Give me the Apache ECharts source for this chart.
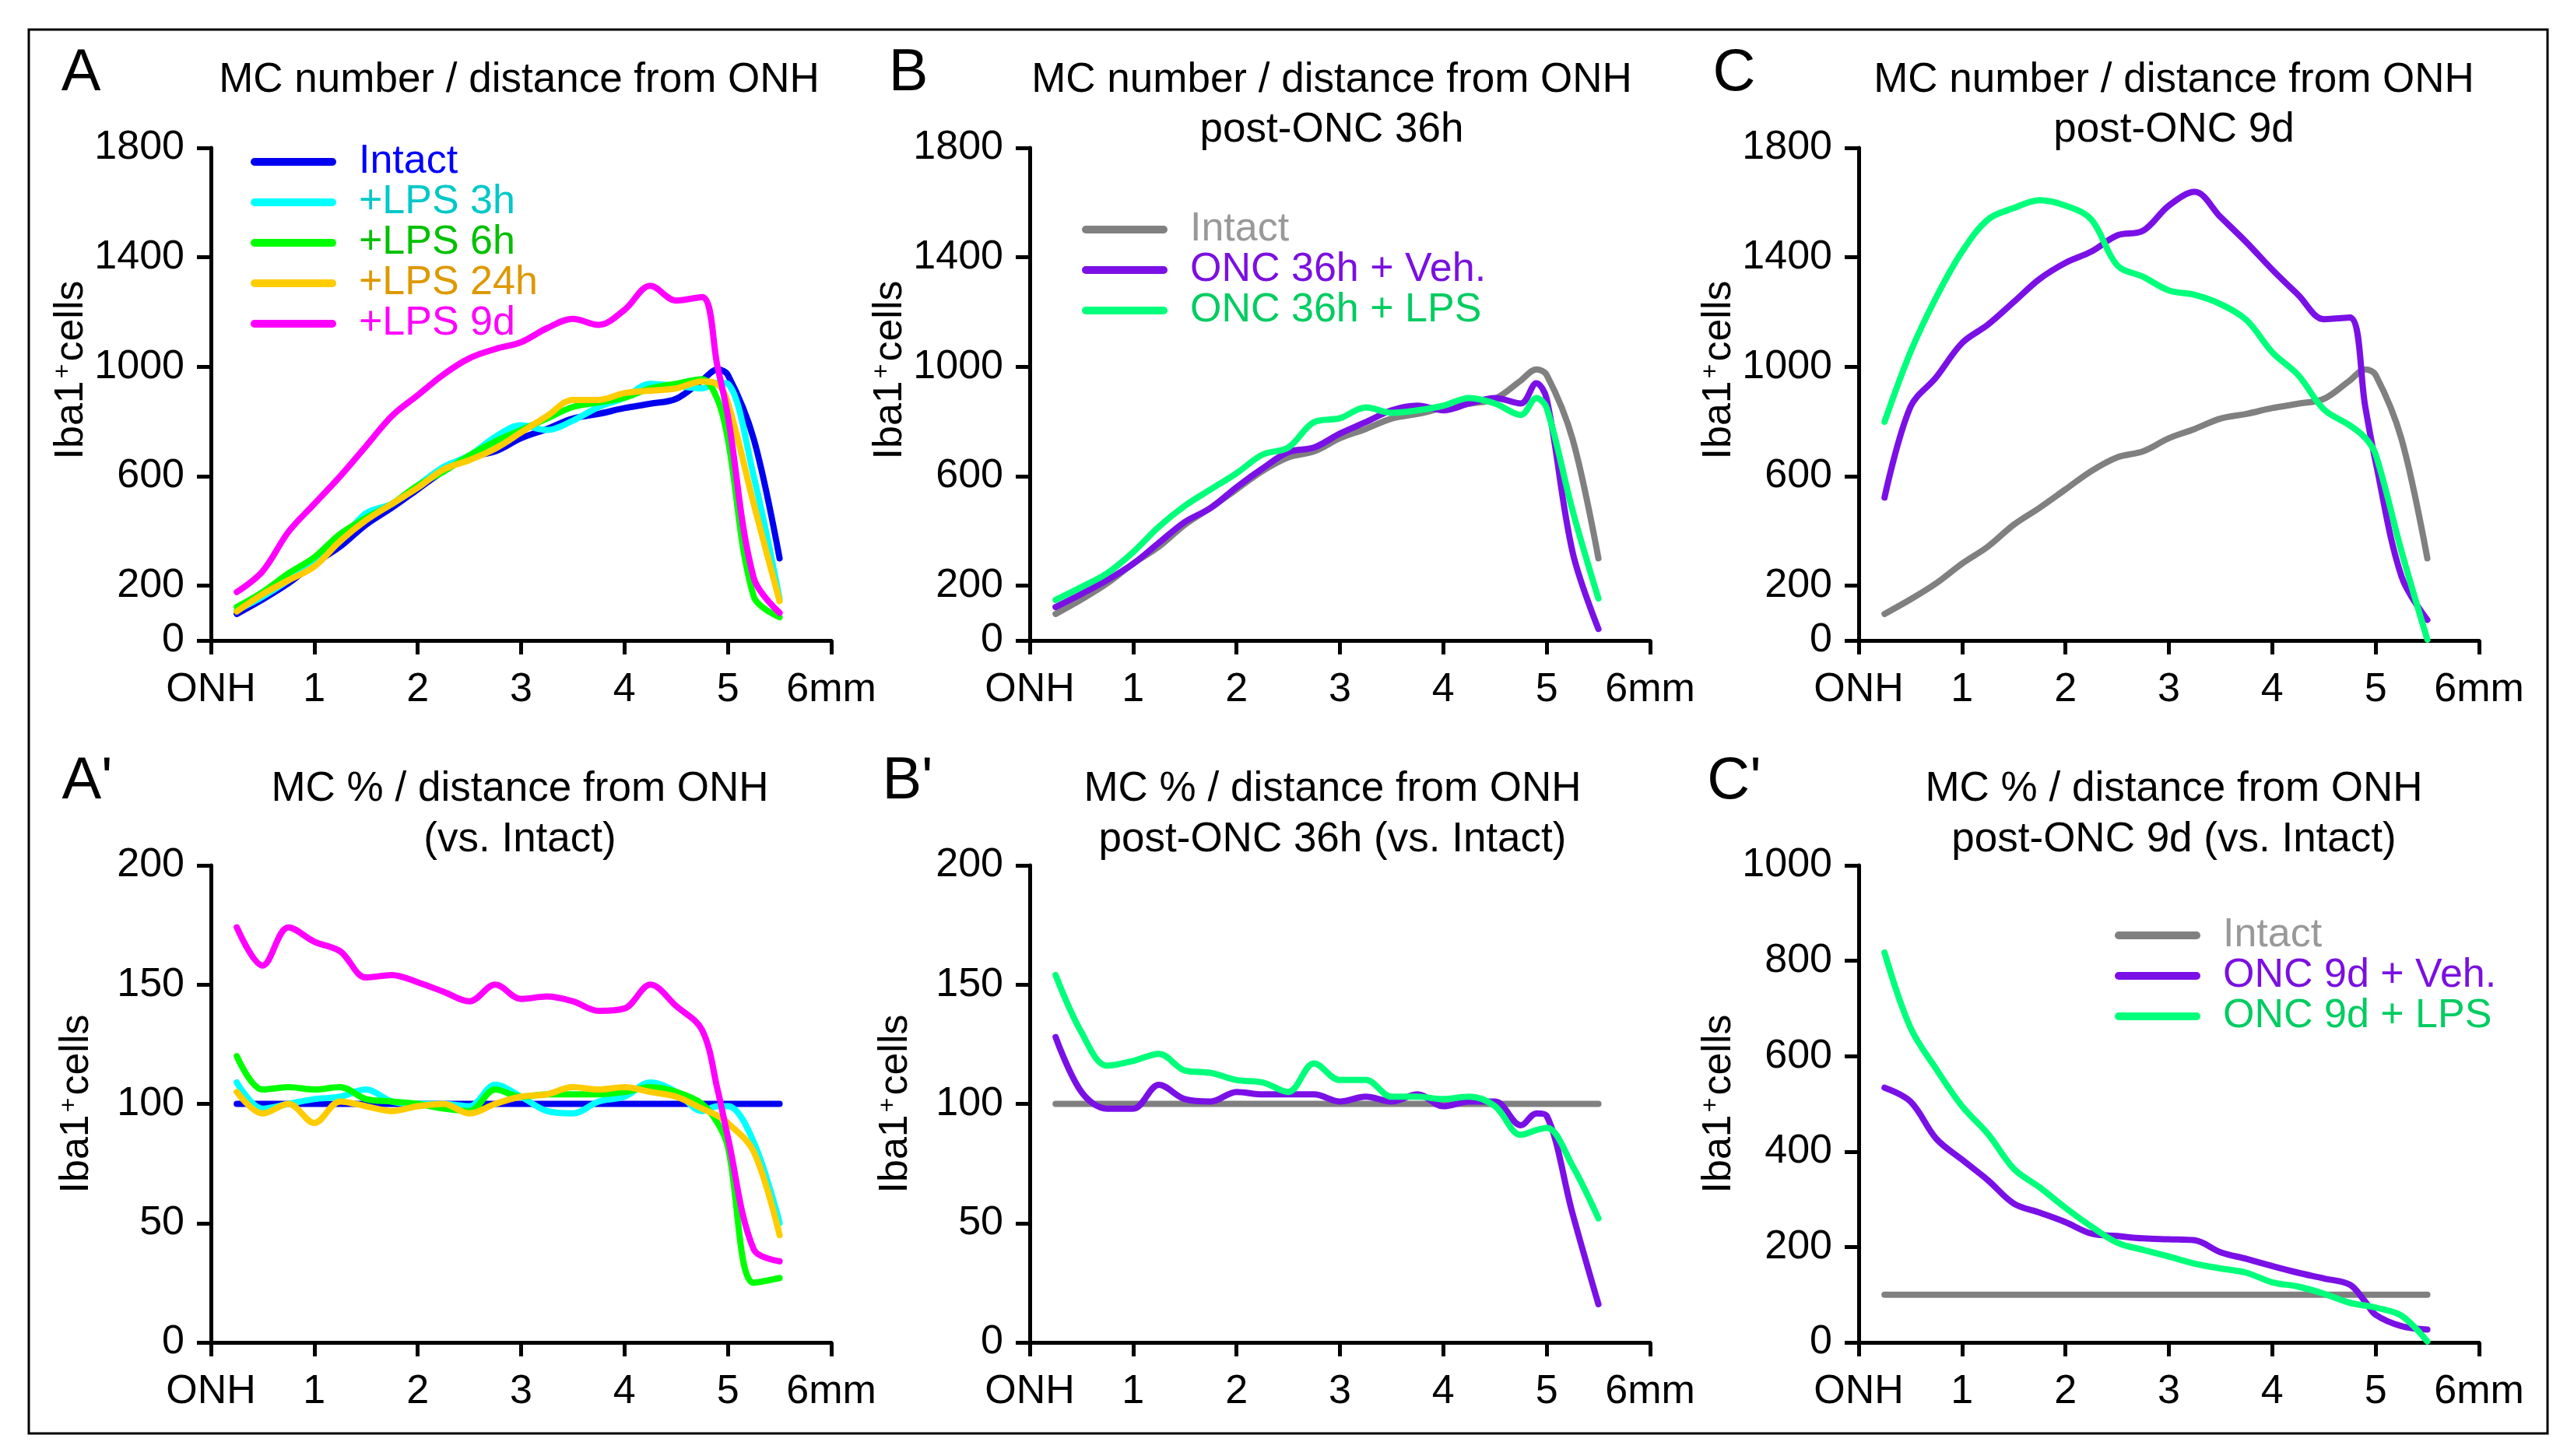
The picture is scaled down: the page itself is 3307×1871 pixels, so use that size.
<!DOCTYPE html>
<html>
<head>
<meta charset="utf-8">
<script src="https://cdn.jsdelivr.net/npm/echarts@6/dist/echarts.min.js"></script>
<style>
html, body { margin: 0; padding: 0; background: #fff; }
#chart { width: 3307px; height: 1871px; }
</style>
</head>
<body>
<div id="chart"></div>
<script>
var FONT = '"Liberation Sans", Arial, sans-serif';

// distance from ONH (mm), shared by every curve
var distance = [0.25, 0.5, 0.75, 1, 1.25, 1.5, 1.75, 2, 2.25, 2.5, 2.75, 3, 3.25, 3.5, 3.75, 4, 4.25, 4.5, 4.75, 4.9, 5, 5.25, 5.5];
var x_ticks = [0, 1, 2, 3, 4, 5, 6];
var x_labels = ['ONH', '1', '2', '3', '4', '5', '6mm'];
var count_ticks = [0, 200, 600, 1000, 1400, 1800];

// MC number (Iba1+ cells)
var count_intact = [97, 150, 209, 281, 343, 423, 485, 552, 619, 669, 691, 739, 773, 811, 828, 849, 865, 883, 950, 990, 970, 736, 300];
var count_lps3h  = [110, 160, 220, 287, 363, 465, 499, 566, 634, 676, 744, 786, 769, 803, 853, 887, 938, 930, 921, 942, 938, 600, 152];
var count_lps6h  = [122, 177, 245, 304, 389, 448, 499, 566, 617, 676, 727, 769, 811, 853, 870, 887, 921, 938, 955, 880, 735, 160, 85];
var count_lps24h = [106, 169, 220, 270, 363, 439, 499, 558, 625, 659, 701, 760, 820, 879, 879, 904, 913, 921, 946, 935, 870, 499, 144];
var count_lps9d  = [177, 253, 397, 499, 600, 710, 820, 896, 972, 1031, 1065, 1090, 1141, 1175, 1153, 1208, 1296, 1242, 1255, 1000, 820, 228, 101];
var count_onc36_veh = [122, 170, 221, 280, 357, 433, 484, 560, 628, 688, 705, 756, 798, 841, 858, 841, 866, 886, 866, 940, 883, 323, 42];
var count_onc36_lps = [148, 195, 246, 323, 416, 492, 552, 611, 679, 705, 798, 812, 852, 832, 841, 858, 886, 866, 824, 886, 849, 475, 153];
var count_onc9_veh  = [522, 853, 962, 1087, 1154, 1237, 1321, 1380, 1421, 1480, 1497, 1589, 1639, 1547, 1455, 1355, 1263, 1174, 1180, 853, 652, 234, 75];
var count_onc9_lps  = [799, 1053, 1254, 1421, 1538, 1580, 1609, 1589, 1538, 1371, 1329, 1279, 1263, 1229, 1171, 1053, 970, 844, 786, 740, 680, 326, 3];

// MC % vs. intact
var pct_intact = [100, 100, 100, 100, 100, 100, 100, 100, 100, 100, 100, 100, 100, 100, 100, 100, 100, 100, 100, 100, 100, 100, 100];
var pct_lps3h  = [109, 98, 100, 102, 103, 106, 101, 100, 100, 99, 108, 103, 97, 96, 101, 103, 109, 105, 97, 99, 99, 84, 50];
var pct_lps6h  = [120, 106, 107, 106, 107, 102, 101, 100, 98, 97, 106, 103, 104, 104, 104, 105, 107, 105, 100, 92, 82, 25, 27];
var pct_lps24h = [105, 96, 100, 92, 101, 99, 97, 99, 100, 96, 100, 103, 104, 107, 106, 107, 105, 103, 98, 95, 92, 80, 45];
var pct_lps9d  = [174, 158, 174, 168, 164, 153, 154, 151, 147, 143, 150, 144, 145, 143, 139, 140, 150, 141, 131, 106, 86, 39, 34];
var pct_onc36_veh = [128, 105, 98, 98, 108, 102, 101, 105, 104, 104, 104, 101, 103, 101, 104, 99, 101, 101, 91, 96, 95, 54, 16];
var pct_onc36_lps = [154, 130, 116, 118, 121, 114, 113, 110, 109, 105, 117, 110, 110, 103, 103, 102, 103, 99, 87, 89, 90, 74, 52];
var pct_onc9_veh  = [534, 505, 427, 383, 340, 291, 272, 252, 228, 223, 218, 216, 214, 189, 175, 160, 146, 134, 121, 85, 58, 34, 27];
var pct_onc9_lps  = [817, 660, 573, 495, 437, 364, 325, 282, 243, 209, 194, 180, 165, 155, 146, 126, 117, 102, 83, 77, 73, 56, 2];

var C_BLUE = '#0000f0', C_CYAN = '#00ffff', C_GREEN = '#00ff00', C_YELLOW = '#ffcc00', C_MAGENTA = '#ff00ff';
var C_GRAY = '#808080', C_PURPLE = '#7a10e6', C_SPRING = '#00ff7a';

var grids = [
    { left: 271,  top: 190,  width: 797, height: 633 },   // A
    { left: 1323, top: 190,  width: 797, height: 633 },   // B
    { left: 2388, top: 190,  width: 797, height: 633 },   // C
    { left: 271,  top: 1112, width: 797, height: 613 },   // A'
    { left: 1323, top: 1112, width: 797, height: 613 },   // B'
    { left: 2388, top: 1112, width: 797, height: 613 }    // C'
];

function x_axis(idx)
{
    return {
        type: 'value', gridIndex: idx, min: 0, max: 6, interval: 1,
        axisLine: { lineStyle: { color: '#000', width: 5 } },
        axisTick: { length: 18, lineStyle: { color: '#000', width: 5 } },
        axisLabel: {
            margin: 38, fontSize: 52, color: '#000', fontFamily: FONT,
            formatter: function (v) { return x_labels[x_ticks.indexOf(v)] }
        },
        splitLine: { show: false }
    }
}

function y_axis(idx, max, interval, ticks, top_row)
{
    var ax = {
        type: 'value', gridIndex: idx, min: 0, max: max, interval: interval,
        axisLine: { show: true, lineStyle: { color: '#000', width: 5 } },
        axisTick: { show: true, length: 18, lineStyle: { color: '#000', width: 5 } },
        axisLabel: {
            margin: 34, fontSize: 52, color: '#000', fontFamily: FONT,
            formatter: function (v) { return String(v) }
        },
        splitLine: { show: false },
        name: 'Iba1{sup|+}cells',
        nameLocation: 'middle',
        nameGap: top_row ? 150 : 146,
        nameTextStyle: {
            fontSize: 52, color: '#000', fontFamily: FONT,
            padding: top_row ? [0, 0, 0, 62] : 0,
            rich: { sup: { fontSize: 32, color: '#000', fontFamily: FONT, verticalAlign: 'top', padding: [0, 3, 0, 3] } }
        }
    };
    if (ticks) {
        ax.axisLabel.customValues = ticks;
        ax.axisTick.customValues = ticks;
    }
    return ax
}

function line(name, color, idx, values)
{
    return {
        name: name, type: 'line', xAxisIndex: idx, yAxisIndex: idx,
        data: distance.map(function (d, i) { return [d, values[i]] }),
        smooth: 0.35, symbol: 'none', silent: true,
        itemStyle: { color: color },
        lineStyle: { color: color, width: 8, cap: 'round', join: 'round' }
    }
}

function text(str, x, y, size)
{
    return {
        type: 'text', x: x, y: y, silent: true,
        style: { text: str, font: size + 'px ' + FONT, fill: '#000', align: 'center', verticalAlign: 'middle' }
    }
}

var capsule = 'path://M5,0 H105 A5,5 0 0 1 105,10 H5 A5,5 0 0 1 5,0 Z';

function legend(left, top, items)
{
    return {
        orient: 'vertical', left: left, top: top, itemGap: 0,
        itemWidth: 110, itemHeight: 10, icon: capsule, selectedMode: false,
        textStyle: { fontSize: 52, fontFamily: FONT, lineHeight: 51, padding: [0, 0, 0, 24] },
        formatter: function (n) { return n === 'Intact (ONC)' ? 'Intact' : n },
        data: items.map(function (it) { return { name: it[0], textStyle: { color: it[1] } } })
    }
}

var option = {
    animation: false,
    backgroundColor: '#fff',
    grid: grids,
    xAxis: [0, 1, 2, 3, 4, 5].map(x_axis),
    yAxis: [
        y_axis(0, 1800, 200, count_ticks, true),
        y_axis(1, 1800, 200, count_ticks, true),
        y_axis(2, 1800, 200, count_ticks, true),
        y_axis(3, 200, 50, null, false),
        y_axis(4, 200, 50, null, false),
        y_axis(5, 1000, 200, null, false)
    ],
    legend: [
        legend(317, 177, [['Intact', '#0000ff'], ['+LPS 3h', '#00c8c8'], ['+LPS 6h', '#00c000'], ['+LPS 24h', '#dd9900'], ['+LPS 9d', '#ff00ff']]),
        legend(1385, 264, [['Intact (ONC)', '#999999'], ['ONC 36h + Veh.', '#7a10e0'], ['ONC 36h + LPS', '#00cc60']]),
        legend(2712, 1171, [['Intact (ONC)', '#999999'], ['ONC 9d + Veh.', '#7a10e0'], ['ONC 9d + LPS', '#00cc60']])
    ],
    graphic: [
        { type: 'rect', silent: true, shape: { x: 37, y: 38, width: 3236, height: 1804 },
          style: { fill: null, stroke: '#000', lineWidth: 3 } },
        text('A', 104, 95, 76),
        text('B', 1167, 95, 76),
        text('C', 2228, 95, 76),
        text("A'", 112, 1005, 76),
        text("B'", 1166, 1005, 76),
        text("C'", 2228, 1005, 76),
        text('MC number / distance from ONH', 667, 103, 53),
        text('MC number / distance from ONH', 1711, 103, 53),
        text('post-ONC 36h', 1711, 167, 53),
        text('MC number / distance from ONH', 2793, 103, 53),
        text('post-ONC 9d', 2793, 167, 53),
        text('MC % / distance from ONH', 668, 1014, 53),
        text('(vs. Intact)', 668, 1079, 53),
        text('MC % / distance from ONH', 1712, 1014, 53),
        text('post-ONC 36h (vs. Intact)', 1712, 1079, 53),
        text('MC % / distance from ONH', 2793, 1014, 53),
        text('post-ONC 9d (vs. Intact)', 2793, 1079, 53)
    ],
    series: [
        line('Intact', C_BLUE, 0, count_intact),
        line('+LPS 3h', C_CYAN, 0, count_lps3h),
        line('+LPS 6h', C_GREEN, 0, count_lps6h),
        line('+LPS 24h', C_YELLOW, 0, count_lps24h),
        line('+LPS 9d', C_MAGENTA, 0, count_lps9d),

        line('Intact (ONC)', C_GRAY, 1, count_intact),
        line('ONC 36h + Veh.', C_PURPLE, 1, count_onc36_veh),
        line('ONC 36h + LPS', C_SPRING, 1, count_onc36_lps),

        line('Intact (ONC)', C_GRAY, 2, count_intact),
        line('ONC 9d + Veh.', C_PURPLE, 2, count_onc9_veh),
        line('ONC 9d + LPS', C_SPRING, 2, count_onc9_lps),

        line('Intact', C_BLUE, 3, pct_intact),
        line('+LPS 3h', C_CYAN, 3, pct_lps3h),
        line('+LPS 6h', C_GREEN, 3, pct_lps6h),
        line('+LPS 24h', C_YELLOW, 3, pct_lps24h),
        line('+LPS 9d', C_MAGENTA, 3, pct_lps9d),

        line('Intact (ONC)', C_GRAY, 4, pct_intact),
        line('ONC 36h + Veh.', C_PURPLE, 4, pct_onc36_veh),
        line('ONC 36h + LPS', C_SPRING, 4, pct_onc36_lps),

        line('Intact (ONC)', C_GRAY, 5, pct_intact),
        line('ONC 9d + Veh.', C_PURPLE, 5, pct_onc9_veh),
        line('ONC 9d + LPS', C_SPRING, 5, pct_onc9_lps)
    ]
};

var chart = echarts.init(document.getElementById('chart'), null, { renderer: 'canvas' });
chart.setOption(option);
</script>
</body>
</html>
